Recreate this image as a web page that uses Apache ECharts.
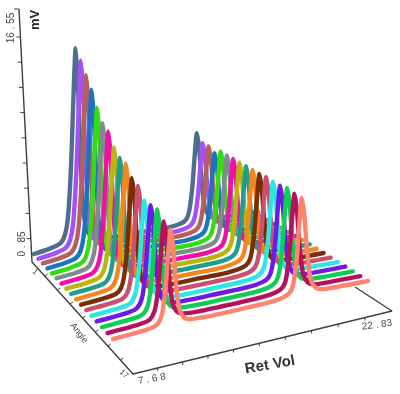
<!DOCTYPE html>
<html><head><meta charset="utf-8">
<style>html,body{margin:0;padding:0;background:#fff}#c{width:400px;height:394px}</style>
<script src="https://cdn.jsdelivr.net/npm/echarts@6/dist/echarts.min.js"></script>
</head><body><div id="c"></div>
<script>
const retVol=[7.68,9,9.8,10.1,10.3,10.5,10.65,10.8,10.95,11.1,11.3,11.6,12,13,15,16.8,17.7,18.1,18.3,18.5,18.65,18.8,18.95,19.1,19.3,19.6,20,21,22.83];
const angles=[1,2,3,4,5,6,7,8,9,10,11,12,13,14,15,16,17];
const colors=['#4f6d8f','#a650f5','#b5605f','#1c74bd','#35dc12','#7f8c8d','#f010a8','#bdb30f','#1f9e8a','#f5861f','#7a2e08','#c9506e','#2ee6e0','#6a1be8','#0fcc55','#b5125e','#ff8470'];
const s01=[.85,1.0,1.22,1.71,2.82,6.02,10.08,13.15,10.94,6.75,3.06,1.59,1.16,1.0,.97,.92,1.02,1.24,1.75,3.2,5.05,6.45,5.44,3.54,1.86,1.19,.99,.92,.85];
const s02=[.85,.99,1.2,1.67,2.72,5.76,9.63,12.55,10.44,6.47,2.96,1.55,1.14,.99,.96,.91,1.0,1.21,1.68,3.03,4.75,6.05,5.11,3.35,1.79,1.16,.98,.91,.86];
const s03=[.86,.98,1.18,1.62,2.61,5.47,9.1,11.85,9.87,6.13,2.83,1.51,1.12,.98,.96,.92,1.01,1.21,1.69,3.03,4.76,6.05,5.12,3.36,1.78,1.16,.97,.91,.85];
const s04=[.85,.97,1.16,1.57,2.5,5.18,8.58,11.15,9.3,5.79,2.7,1.47,1.11,.97,.95,.91,1.0,1.2,1.65,2.95,4.6,5.85,4.95,3.25,1.75,1.15,.97,.91,.85];
const s05=[.85,.96,1.13,1.51,2.35,4.8,7.9,10.25,8.56,5.36,2.54,1.41,1.09,.96,.94,.91,1.01,1.22,1.7,3.08,4.83,6.15,5.2,3.39,1.8,1.17,.98,.91,.86];
const s06=[.86,.95,1.11,1.46,2.24,4.5,7.38,9.55,7.98,5.03,2.42,1.37,1.07,.95,.94,.92,1.02,1.23,1.7,3.09,4.83,6.15,5.21,3.38,1.81,1.17,.98,.92,.85];
const s07=[.85,.95,1.1,1.44,2.19,4.38,7.15,9.25,7.74,4.88,2.36,1.35,1.06,.95,.93,.91,1.01,1.22,1.71,3.08,4.82,6.15,5.2,3.4,1.8,1.16,.99,.91,.85];
const s08=[.85,.94,1.08,1.39,2.08,4.08,6.63,8.55,7.16,4.55,2.24,1.31,1.04,.94,.93,.91,1.01,1.22,1.7,3.07,4.84,6.15,5.19,3.39,1.8,1.17,.98,.91,.86];
const s09=[.86,.94,1.07,1.36,2.02,3.92,6.33,8.15,6.84,4.35,2.16,1.29,1.03,.94,.92,.92,1.01,1.22,1.7,3.08,4.83,6.15,5.2,3.39,1.79,1.17,.98,.92,.85];
const s10=[.85,.94,1.07,1.35,2.0,3.87,6.25,8.05,6.75,4.31,2.15,1.28,1.03,.94,.92,.91,1.02,1.22,1.69,3.08,4.83,6.15,5.2,3.39,1.8,1.18,.98,.91,.85];
const s11=[.85,.93,1.05,1.31,1.91,3.62,5.8,7.45,6.26,4.02,2.04,1.25,1.02,.93,.92,.91,1.01,1.22,1.7,3.08,4.83,6.15,5.21,3.39,1.81,1.17,.98,.91,.86];
const s12=[.86,.93,1.04,1.3,1.87,3.54,5.65,7.25,6.1,3.92,2.0,1.23,1.01,.93,.91,.91,1.01,1.23,1.71,3.1,4.87,6.2,5.24,3.42,1.81,1.17,.98,.91,.85];
const s13=[.85,.92,1.02,1.26,1.78,3.29,5.2,6.65,5.61,3.63,1.89,1.2,1.0,.92,.91,.92,1.01,1.22,1.7,3.08,4.83,6.15,5.2,3.39,1.8,1.17,.98,.92,.85];
const s14=[.85,.92,1.03,1.26,1.78,3.3,5.2,6.65,5.62,3.63,1.89,1.2,1.0,.92,.91,.91,1.01,1.22,1.7,3.08,4.83,6.15,5.2,3.4,1.8,1.17,.98,.91,.86];
const s15=[.86,.92,1.02,1.25,1.78,3.29,5.21,6.65,5.61,3.64,1.89,1.2,1.0,.92,.91,.91,1.01,1.23,1.71,3.12,4.9,6.25,5.28,3.44,1.82,1.17,.99,.91,.85];
const s16=[.85,.91,1.01,1.23,1.71,3.12,4.9,6.25,5.28,3.44,1.82,1.17,.99,.91,.9,.91,1.01,1.22,1.7,3.08,4.83,6.15,5.2,3.39,1.8,1.17,.98,.91,.85];
const s17=[.85,.91,1.01,1.21,1.68,3.03,4.75,6.05,5.11,3.35,1.79,1.16,.98,.91,.9,.91,1.01,1.22,1.7,3.08,4.83,6.15,5.2,3.39,1.8,1.17,.98,.91,.85];
const seriesValues=[s01,s02,s03,s04,s05,s06,s07,s08,s09,s10,s11,s12,s13,s14,s15,s16,s17];
const mvTicks=9, angleTicks=8, retTicks=10;

// pseudo-3D projection of (retVol, angle, mV) onto the page
const lerp=(a,b,t)=>a+(b-a)*t;
function proj(rv,ang,mv){
  const u=(rv-7.68)/15.15, v=(ang-1)/16;
  const vw=v/(1+.128*(1-v));
  const uw=u+(vw-.5)*.05*(1-u)*Math.min(1,u/.12);
  const x=lerp(lerp(34,258,uw),lerp(113,368,uw),vw);
  const y=lerp(lerp(254,212,uw),lerp(339,281,uw),vw);
  return [x,y-(mv-.85)*(16.1+2.4*vw)];
}
const O=[32,262],T=[19,9],L=[133,374],R=[392,311],B=[355,287];
const seg=(a,b,t)=>[lerp(a[0],b[0],t),lerp(a[1],b[1],t)];
const axisPts=[T,O,L,R,B];
const tickPts=[[T[0],T[1]],[T[0]-5,T[1]],[null,null]];
for(let i=0;i<mvTicks;i++){const p=seg(T,O,(i*25.2+28)/253);tickPts.push(p,[p[0]-4,p[1]],[null,null]);}
for(let i=1;i<angleTicks;i++){const p=seg(O,L,i/angleTicks);tickPts.push(p,[p[0]+3,p[1]-2],[null,null]);}
for(let i=1;i<retTicks;i++){const t=i/retTicks;const p=seg(L,R,t-.05*t*(1-t));tickPts.push(p,[p[0],p[1]+3],[null,null]);}

const series=[];
series.push({type:'line',data:axisPts,symbol:'none',silent:true,lineStyle:{color:'#3c3f44',width:1.4},z:1,animation:false});
series.push({type:'line',data:tickPts,symbol:'none',silent:true,connectNulls:false,lineStyle:{color:'#3c3f44',width:1},z:1,animation:false});
seriesValues.forEach((vals,i)=>{
  series.push({type:'line',name:'Angle '+angles[i],data:vals.map((m,j)=>proj(retVol[j],angles[i],m)),
    symbol:'none',smooth:.25,silent:true,z:2+i,animation:false,
    lineStyle:{color:colors[i],width:4.4,cap:'round',join:'round'}});
});
const txt=(text,x,y,deg,size,weight,col)=>({type:'text',x,y,rotation:deg*Math.PI/180,z:100,
  style:{text,fill:col||'#444',font:`${weight||'normal'} ${size}px "Liberation Sans",Arial,sans-serif`,align:'center',verticalAlign:'middle'}});
const chart=echarts.init(document.getElementById('c'),null,{renderer:'canvas'});
chart.setOption({
  backgroundColor:'#fff',animation:false,
  grid:{left:0,right:0,top:0,bottom:0},
  xAxis:{type:'value',min:0,max:400,show:false},
  yAxis:{type:'value',min:0,max:394,inverse:true,show:false},
  series,
  graphic:[
    txt('16 . 55',11,28,90,10),
    txt('0 . 85',22,244,90,10),
    txt('mV',35,20,90,13,'bold','#222'),
    txt('1',35,272,-40,8),
    txt('Angle',79,333,-52,9),
    txt('17',124,374,-40,8),
    txt('7 . 6 8',152,379,10,10),
    txt('22 . 83',377,325,8,10),
    txt('Ret Vol',270,365,10,15,'bold','#333')
  ]
});
</script></body></html>
